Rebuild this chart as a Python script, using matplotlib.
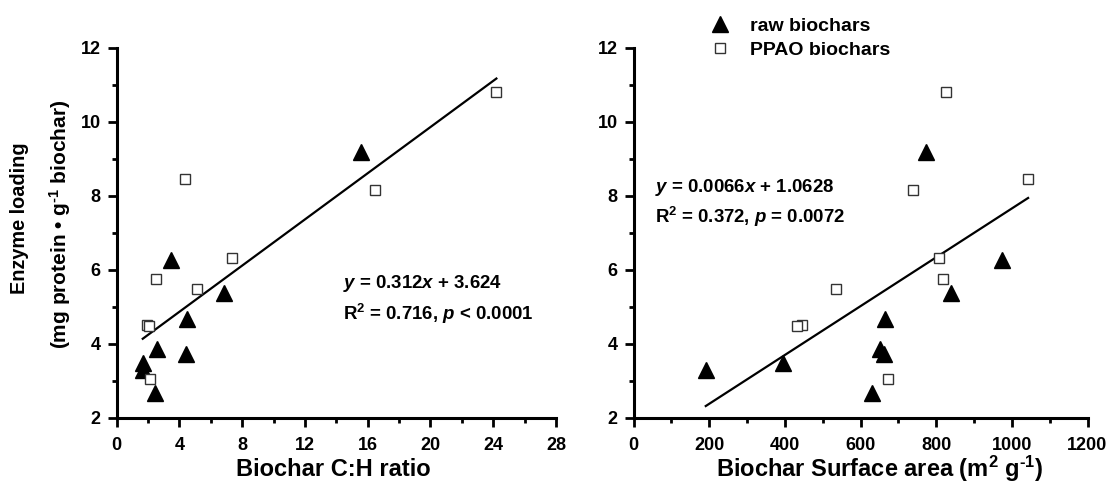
import matplotlib
matplotlib.use("Agg")
import matplotlib.pyplot as plt
from matplotlib.lines import Line2D
from matplotlib.ticker import MultipleLocator

# ---- data ----
RAW_LOADING = [9.18, 6.28, 5.38, 4.68, 3.87, 3.74, 3.49, 3.31, 2.68]
RAW_CH = [15.6, 3.45, 6.86, 4.47, 2.60, 4.41, 1.66, 1.66, 2.41]
RAW_SA = [773, 973, 840, 664, 651, 663, 396, 191, 630]

PPAO_LOADING = [10.80, 8.46, 8.15, 6.33, 5.76, 5.49, 4.52, 4.48, 3.05]
PPAO_CH = [24.2, 4.37, 16.46, 7.37, 2.49, 5.09, 1.92, 2.07, 2.13]
PPAO_SA = [827, 1043, 739, 808, 817, 535, 446, 431, 674]

# fitted lines as printed on the chart
FIT_CH = (0.312, 3.624)
FIT_SA = (0.0066, 1.0628)

plt.rcParams["font.family"] = ["Liberation Sans", "DejaVu Sans"]
plt.rcParams["font.weight"] = "bold"
plt.rcParams["mathtext.fontset"] = "custom"
plt.rcParams["mathtext.rm"] = "Liberation Sans:bold"
plt.rcParams["mathtext.bf"] = "Liberation Sans:bold"
plt.rcParams["mathtext.it"] = "Liberation Sans:bold:italic"

W, H = 1111, 497
fig = plt.figure(figsize=(W / 100, H / 100), dpi=100)

TRI = dict(linestyle="none", marker="^", ms=11, mfc="black", mec="black")
SQR = dict(linestyle="none", marker="s", ms=7.5, mfc="white", mec="#333333", mew=1.0)


def px_axes(x0, x1, y_top, y_bot):
    return fig.add_axes([x0 / W, 1 - y_bot / H, (x1 - x0) / W, (y_bot - y_top) / H])


ax1 = px_axes(116.7, 556, 48, 418)
ax2 = px_axes(633.5, 1087.5, 48, 418)


def style(ax, xmax, xmajor):
    for s in ("top", "right"):
        ax.spines[s].set_visible(False)
    for s in ("left", "bottom"):
        ax.spines[s].set_linewidth(2.2)
    ax.set_ylim(2, 12)
    ax.set_xlim(0, xmax)
    ax.yaxis.set_major_locator(MultipleLocator(2))
    ax.yaxis.set_minor_locator(MultipleLocator(1))
    ax.xaxis.set_major_locator(MultipleLocator(xmajor))
    ax.xaxis.set_minor_locator(MultipleLocator(xmajor / 2))
    ax.tick_params(which="major", direction="out", length=6.5, width=2, labelsize=13)
    ax.tick_params(which="minor", direction="out", length=3.5, width=2)
    ax.tick_params(axis="x", pad=7.5)
    ax.tick_params(axis="y", pad=5)
    for lab in ax.get_xticklabels() + ax.get_yticklabels():
        lab.set_fontweight("bold")


def scatter(ax, raw_x, ppao_x, fit):
    ax.plot(raw_x, RAW_LOADING, clip_on=False, zorder=3, **TRI)
    ax.plot(ppao_x, PPAO_LOADING, clip_on=False, zorder=3, **SQR)
    xs = raw_x + ppao_x
    lo, hi = min(xs), max(xs)
    ax.plot([lo, hi], [fit[0] * lo + fit[1], fit[0] * hi + fit[1]],
            color="black", lw=1.6, zorder=2)


style(ax1, 28, 4)
style(ax2, 1200, 200)
scatter(ax1, RAW_CH, PPAO_CH, FIT_CH)
scatter(ax2, RAW_SA, PPAO_SA, FIT_SA)

ANN = dict(transform=fig.transFigure, fontsize=13.4, va="center", ha="left")
fig.text(343 / W, 1 - 284 / H, r"$y$ = 0.312$x$ + 3.624", **ANN)
fig.text(343 / W, 1 - 314 / H, r"R$^2$ = 0.716, $p$ < 0.0001", **ANN)
fig.text(655 / W, 1 - 187 / H, r"$y$ = 0.0066$x$ + 1.0628", **ANN)
fig.text(655 / W, 1 - 217 / H, r"R$^2$ = 0.372, $p$ = 0.0072", **ANN)

fig.text(333 / W, 1 - 469 / H, "Biochar C:H ratio", fontsize=17, ha="center", va="center")
fig.text(880 / W, 1 - 469 / H, "Biochar Surface area (m$^2$ g$^{\u2010 1}$)", fontsize=17,
         ha="center", va="center")
fig.text(20 / W, 1 - 218 / H, "Enzyme loading", fontsize=14.3, rotation=90,
         ha="center", va="center")
fig.text(60 / W, 1 - 224 / H, "(mg protein \u2022 g$^{\u2010 1}$ biochar)", fontsize=15,
         rotation=90, ha="center", va="center")

handles = [Line2D([], [], **TRI), Line2D([], [], **SQR)]
fig.legend(handles, ["raw biochars", "PPAO biochars"], loc="upper left",
           bbox_to_anchor=(688 / W, 1.0), frameon=False, fontsize=14,
           handletextpad=0.8, labelspacing=0.3, handlelength=1.5)

fig.savefig("out.png", dpi=100)
